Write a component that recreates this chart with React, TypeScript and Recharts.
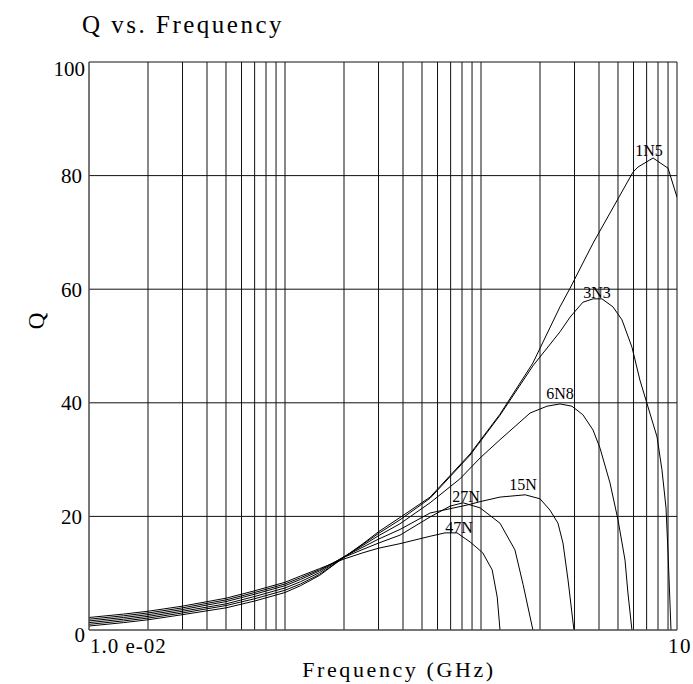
import { CartesianGrid, Label, Line, LineChart, ReferenceDot, XAxis, YAxis } from "recharts";

const FONT = '"Liberation Serif", "Times New Roman", serif';

// frequency grid (GHz) — log decades 0.01 .. 10
const freqTicks = [
  0.01, 0.02, 0.03, 0.04, 0.05, 0.06, 0.07, 0.08, 0.09,
  0.1, 0.2, 0.3, 0.4, 0.5, 0.6, 0.7, 0.8, 0.9,
  1, 2, 3, 4, 5, 6, 7, 8, 9, 10,
];
const qTicks = [0, 20, 40, 60, 80, 100];

// 1N5
const f1N5 = [0.01, 0.015, 0.02, 0.03, 0.05, 0.07, 0.1, 0.12, 0.15, 0.2, 0.25, 0.3, 0.386, 0.55, 0.88, 1.25, 1.84, 2.53, 2.85, 3.31, 3.73, 5.96, 6.32, 7.55, 9.0, 10];
const q1N5 = [0.7, 1.3, 1.8, 2.7, 3.9, 5.1, 6.6, 7.8, 9.6, 12.8, 15.2, 17.3, 19.8, 23.4, 31, 38, 47, 56.9, 60.2, 64.6, 68.1, 80.6, 81.5, 83.1, 81.3, 76.2];

// 3N3
const f3N3 = [0.01, 0.015, 0.02, 0.03, 0.05, 0.07, 0.1, 0.12, 0.15, 0.2, 0.25, 0.3, 0.386, 0.55, 0.88, 1.25, 1.84, 2.53, 2.85, 3.31, 3.73, 4.14, 4.71, 5.24, 5.89, 6.47, 7.11, 7.91, 8.38, 8.79, 9.0, 9.32];
const q3N3 = [1.0, 1.6, 2.1, 3.0, 4.3, 5.5, 7.0, 8.1, 9.8, 12.8, 15.1, 17.0, 19.4, 23.2, 30.8, 37.8, 46.5, 52.5, 55.1, 57.7, 58.3, 58.3, 56.9, 54.6, 49.8, 44, 39.3, 34, 28.2, 21.5, 13.6, 0];

// 6N8
const f6N8 = [0.01, 0.015, 0.02, 0.03, 0.05, 0.07, 0.1, 0.12, 0.15, 0.2, 0.25, 0.3, 0.386, 0.55, 0.78, 0.99, 1.25, 1.78, 2.17, 2.53, 2.91, 3.31, 3.73, 4.05, 4.55, 5.0, 5.43, 5.62, 5.89];
const q6N8 = [1.3, 1.9, 2.4, 3.3, 4.6, 5.9, 7.4, 8.5, 10.1, 12.9, 14.9, 16.6, 18.7, 22.4, 26.6, 30.3, 33.5, 38.2, 39.4, 39.8, 39.4, 37.9, 35.2, 32.0, 25.9, 19.4, 12.3, 6.5, 0];

// 15N
const f15N = [0.01, 0.015, 0.02, 0.03, 0.05, 0.07, 0.1, 0.12, 0.15, 0.2, 0.25, 0.3, 0.386, 0.55, 0.85, 0.99, 1.25, 1.68, 2.0, 2.25, 2.47, 2.62, 2.78, 2.98];
const q15N = [1.6, 2.2, 2.7, 3.6, 5.0, 6.3, 7.8, 8.9, 10.4, 12.9, 14.6, 16.0, 17.7, 20.6, 22.0, 22.6, 23.4, 23.8, 23.1, 21.1, 18.8, 15.3, 8.8, 0];

// 27N
const f27N = [0.01, 0.015, 0.02, 0.03, 0.05, 0.07, 0.1, 0.12, 0.15, 0.2, 0.25, 0.3, 0.386, 0.55, 0.695, 0.81, 0.99, 1.25, 1.49, 1.64, 1.84];
const q27N = [1.9, 2.5, 3.0, 3.9, 5.3, 6.6, 8.1, 9.2, 10.6, 12.8, 14.2, 15.3, 16.7, 19.9, 21.8, 22.4, 21.5, 18.8, 14.1, 8.0, 0];

// 47N
const f47N = [0.01, 0.015, 0.02, 0.03, 0.05, 0.07, 0.1, 0.12, 0.15, 0.2, 0.25, 0.3, 0.386, 0.55, 0.655, 0.754, 0.88, 1.02, 1.14, 1.21, 1.25];
const q47N = [2.2, 2.8, 3.3, 4.2, 5.6, 6.9, 8.4, 9.5, 10.8, 12.5, 13.6, 14.4, 15.2, 16.5, 17.1, 17.1, 15.5, 13.6, 10.6, 5.8, 0];

// curve labels, placed in data units
const labelNames = ["1N5", "3N3", "6N8", "15N", "27N", "47N"];
const labelFreq = [7.19, 3.91, 2.53, 1.64, 0.838, 0.772];
const labelQ = [84.5, 59.5, 41.7, 25.7, 23.6, 18.0];

const series = [
  { name: "1N5", f: f1N5, q: q1N5 },
  { name: "3N3", f: f3N3, q: q3N3 },
  { name: "6N8", f: f6N8, q: q6N8 },
  { name: "15N", f: f15N, q: q15N },
  { name: "27N", f: f27N, q: q27N },
  { name: "47N", f: f47N, q: q47N },
].map((s) => ({ name: s.name, data: s.f.map((f, i) => ({ f, q: s.q[i] })) }));

function XTick(props: any) {
  const { x, y, payload } = props;
  const v = payload.value;
  if (v !== 0.01 && v !== 10) return <g />;
  const text = v === 0.01 ? "1.0 e-02" : "10";
  return (
    <text x={v === 0.01 ? x + 1 : x - 9} y={y + 23} fontSize={21} fontFamily={FONT} fill="#000" letterSpacing={v === 0.01 ? 1 : 1.5}>
      {text}
    </text>
  );
}

function YTick(props: any) {
  const { x, y, payload } = props;
  const v = payload.value;
  const edge = v === 0 || v === 100;
  const dy = v === 0 ? 5 : v === 100 ? 7 : 0;
  return (
    <text x={x - (edge ? 4 : 7)} y={y + dy} dy="0.35em" textAnchor="end" fontSize={21} fontFamily={FONT} fill="#000">
      {v}
    </text>
  );
}

function XLabel(props: any) {
  const vb = props.viewBox || { x: 89, y: 630, width: 588, height: 54 };
  return (
    <text x={vb.x + vb.width / 2 + 16} y={vb.y + 47} textAnchor="middle" fontSize={22} fontFamily={FONT} letterSpacing={2.6} fill="#000">
      Frequency (GHz)
    </text>
  );
}

function YLabel(props: any) {
  const vb = props.viewBox || { x: 0, y: 62, width: 89, height: 568 };
  const cx = vb.x + 36;
  const cy = vb.y + vb.height / 2 - 25;
  return (
    <text x={cx} y={cy} dy="0.35em" textAnchor="middle" fontSize={23} fontFamily={FONT} fill="#000" transform={`rotate(-90, ${cx}, ${cy})`}>
      Q
    </text>
  );
}

export default function App() {
  return (
    <div style={{ position: "relative", width: 693, height: 684, overflow: "hidden", fontFamily: FONT, background: "#fff" }}>
      <style>{"body{margin:0}"}</style>
      <LineChart width={693} height={684} margin={{ top: 62, right: 16, bottom: 0, left: 0 }}>
        <CartesianGrid stroke="#111" strokeWidth={1} />
        <XAxis
          dataKey="f"
          type="number"
          scale="log"
          domain={[0.01, 10]}
          ticks={freqTicks}
          interval={0}
          allowDataOverflow
          height={54}
          tickSize={0}
          tickMargin={0}
          tickLine={false}
          axisLine={{ stroke: "#666" }}
          tick={XTick}
        >
          <Label content={XLabel} />
        </XAxis>
        <YAxis
          type="number"
          domain={[0, 100]}
          ticks={qTicks}
          interval={0}
          width={89}
          tickSize={0}
          tickMargin={0}
          tickLine={false}
          axisLine={{ stroke: "#666" }}
          tick={YTick}
        >
          <Label content={YLabel} />
        </YAxis>
        {series.map((s) => (
          <Line
            key={s.name}
            data={s.data}
            dataKey="q"
            type="linear"
            stroke="#000"
            strokeWidth={1}
            dot={false}
            activeDot={false}
            isAnimationActive={false}
          />
        ))}
        {labelNames.map((n, i) => (
          <ReferenceDot
            key={n}
            x={labelFreq[i]}
            y={labelQ[i]}
            r={0}
            fill="none"
            stroke="none"
            label={{ value: n, position: "center", fontSize: 16, fontFamily: FONT, fill: "#000" }}
          />
        ))}
      </LineChart>
      <div
        style={{
          position: "absolute",
          left: 82,
          top: 12,
          fontSize: 25,
          lineHeight: "25px",
          letterSpacing: 2.5,
          whiteSpace: "nowrap",
          color: "#000",
          zIndex: 1,
        }}
      >
        Q vs. Frequency
      </div>
    </div>
  );
}
